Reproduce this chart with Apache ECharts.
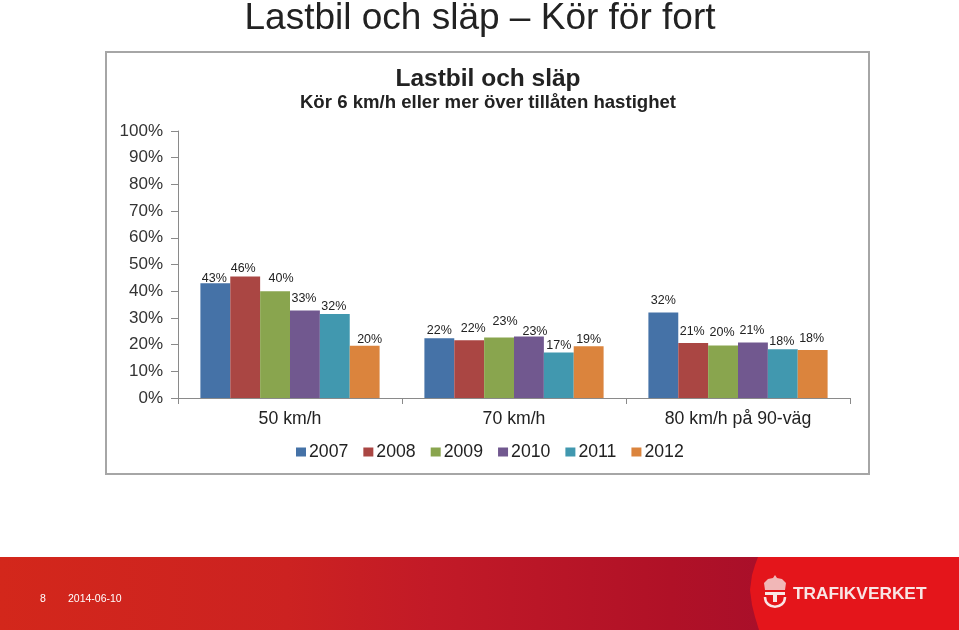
<!DOCTYPE html>
<html><head><meta charset="utf-8">
<style>html,body{margin:0;padding:0;background:#fff}#c{width:959px;height:630px}</style>
<script src="https://cdn.jsdelivr.net/npm/echarts@6/dist/echarts.min.js"></script>
</head><body><div id="c"></div>
<script>
const categories = ['50 km/h', '70 km/h', '80 km/h på 90-väg'];
const years = ['2007', '2008', '2009', '2010', '2011', '2012'];
const v2007 = [43, 22.4, 32];
const v2008 = [45.5, 21.6, 20.6];
const v2009 = [40, 22.7, 19.7];
const v2010 = [32.8, 23, 20.8];
const v2011 = [31.5, 17, 18.3];
const v2012 = [19.6, 19.4, 18];
const values = [v2007, v2008, v2009, v2010, v2011, v2012];
const colors = ['#4572a7', '#aa4643', '#89a54e', '#71588f', '#4198af', '#db843d'];
// hand-placed data label nudges, as in the source chart [dx, dy] per year, per category
const labelNudge = [
  [[-1, 7], [0, 4], [0, -1]],
  [[-2, 4], [4, 0], [-1, 0]],
  [[6, -1], [6, -4], [-1, -1]],
  [[-1, 0], [6, 6], [-1, 0]],
  [[-1, 4], [0, 4], [-1, 4]],
  [[5, 5], [0, 5], [-1, 0]]
];
const chart = echarts.init(document.getElementById('c'), null, {renderer: 'canvas'});
const F = '"Liberation Sans", Arial, sans-serif';
chart.setOption({
  animation: false,
  textStyle: {fontFamily: F},
  title: [
    {text: 'Lastbil och släp – Kör för fort', left: 475, top: -5, textAlign: 'center',
     textStyle: {fontFamily: F, fontWeight: 'normal', fontSize: 37, color: '#222'}},
    {text: 'Lastbil och släp', left: 483, top: 62, textAlign: 'center',
     textStyle: {fontFamily: F, fontWeight: 'bold', fontSize: 24.5, color: '#222'}},
    {text: 'Kör 6 km/h eller mer över tillåten hastighet', left: 483, top: 88, textAlign: 'center',
     textStyle: {fontFamily: F, fontWeight: 'bold', fontSize: 18.6, color: '#222'}}
  ],
  legend: {
    data: years, left: 291, top: 438, icon: 'rect', itemWidth: 10, itemHeight: 9, itemGap: 15,
    textStyle: {fontFamily: F, fontSize: 17.7, color: '#222', padding: [0, 0, 0, -2]}
  },
  grid: {left: 178, right: 109, top: 131, bottom: 232},
  xAxis: {
    type: 'category', data: categories,
    axisLine: {lineStyle: {color: '#8a8a8a', width: 1}},
    axisTick: {show: true, length: 6, lineStyle: {color: '#8a8a8a'}},
    axisLabel: {fontSize: 17.7, color: '#222', margin: 12}
  },
  yAxis: {
    type: 'value', min: 0, max: 100, interval: 10,
    splitLine: {show: false},
    axisLine: {show: true, lineStyle: {color: '#8a8a8a', width: 1}},
    axisTick: {show: true, length: 7, lineStyle: {color: '#8a8a8a'}},
    axisLabel: {fontSize: 17, color: '#333', margin: 15, formatter: '{value}%'}
  },
  series: years.map((y, i) => ({
    name: y, type: 'bar', barGap: 0, barCategoryGap: '20%',
    itemStyle: {color: colors[i]},
    data: values[i].map((val, k) => ({
      value: val,
      label: {offset: labelNudge[i][k]}
    })),
    label: {
      show: true, position: 'top', distance: 5, fontSize: 12.5, color: '#222',
      formatter: p => Math.round(p.value) + '%'
    }
  })),
  graphic: [
    {type: 'rect', z: -1, shape: {x: 106, y: 52, width: 763, height: 422},
     style: {fill: '#fff', stroke: '#a6a6a6', lineWidth: 2}},
    {type: 'rect', z: -1, shape: {x: 0, y: 557, width: 959, height: 73},
     style: {fill: new echarts.graphic.LinearGradient(0, 0, 1, 0, [
       {offset: 0, color: '#d3271b'}, {offset: 0.3, color: '#cc2221'},
       {offset: 0.45, color: '#c21a27'}, {offset: 0.7, color: '#b01127'}, {offset: 0.8, color: '#a90f2a'}, {offset: 1, color: '#a90f2a'}
     ])}},
    {type: 'polygon', z: -1, shape: {points: [[758,557],[755,565],[752,575],[750,590],[752,605],[755,617],[759,630],[959,630],[959,557]]},
     style: {fill: '#e4151b'}},
    {type: 'text', z: 5, style: {x: 40, y: 594, text: '8', fill: '#fff', fontSize: 10.5, fontFamily: F}},
    {type: 'text', z: 5, style: {x: 68, y: 594, text: '2014-06-10', fill: '#fff', fontSize: 10.5, fontFamily: F}},
    {type: 'text', z: 5, style: {x: 793, y: 586, text: 'TRAFIKVERKET', fill: '#f8e6e6', fontSize: 17.3, fontWeight: 'bold', fontFamily: F}},
    {type: 'polygon', z: 5, shape: {points: [[765,590],[764,583],[768,579],[773,578],[775,575],[777,578],[782,579],[786,583],[785,590]]},
     style: {fill: '#f1b7b7'}},
    {type: 'rect', z: 5, shape: {x: 765, y: 592, width: 20, height: 3}, style: {fill: '#f8e6e6'}},
    {type: 'rect', z: 5, shape: {x: 773, y: 594, width: 4, height: 8}, style: {fill: '#f8e6e6'}},
    {type: 'bezierCurve', z: 5, shape: {x1: 765, y1: 597, x2: 785, y2: 597, cpx1: 765, cpy1: 610, cpx2: 785, cpy2: 610},
     style: {fill: 'none', stroke: '#f8e6e6', lineWidth: 2.5}}
  ]
});
</script></body></html>
